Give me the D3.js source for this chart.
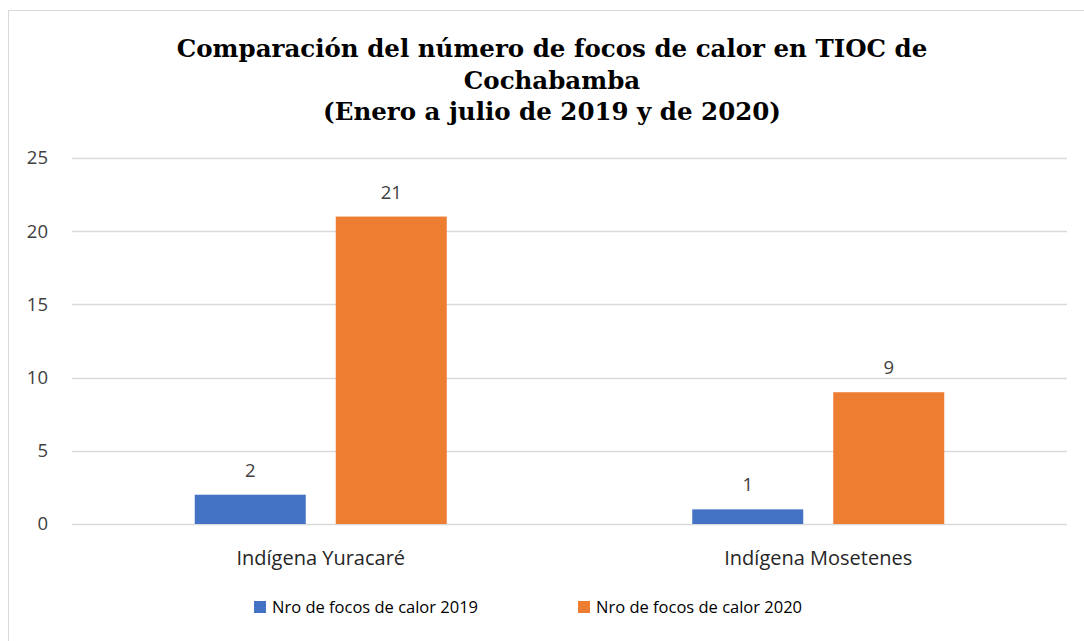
<!DOCTYPE html>
<html>
<head>
<meta charset="utf-8">
<script src="https://cdn.jsdelivr.net/npm/d3@7"></script>
<style>
  body { margin: 0; background: #fff; }
  svg { display: block; }
</style>
</head>
<body>
<div id="chart"></div>
<script>
// Data
var categories = ["Indígena Yuracaré", "Indígena Mosetenes"];
var seriesNames = ["Nro de focos de calor 2019", "Nro de focos de calor 2020"];
var values2019 = [2, 1];
var values2020 = [21, 9];
var yTicks = [0, 5, 10, 15, 20, 25];
var titleLines = ["Comparación del número de focos de calor en TIOC de", "Cochabamba", "(Enero a julio de 2019 y de 2020)"];

var colors = ["#4472C4", "#ED7D31"];

var W = 1084, H = 641;
var margin = {top: 158, bottom: 117, left: 72, right: 17};
var width = W - margin.left - margin.right;
var height = H - margin.top - margin.bottom;

var svg = d3.select("#chart").append("svg")
    .attr("width", W)
    .attr("height", H);

// Chart area border
svg.append("rect")
    .attr("x", 8.5).attr("y", 10.5)
    .attr("width", W + 20).attr("height", H + 20)
    .attr("fill", "none")
    .attr("stroke", "#d9d9d9");

// Title
svg.append("g").selectAll("text")
    .data(titleLines)
    .enter().append("text")
    .attr("x", 552)
    .attr("y", function(d, i) { return 57 + i * 31.5; })
    .attr("text-anchor", "middle")
    .style("font-family", "'DejaVu Serif', serif")
    .style("font-weight", "bold")
    .style("font-size", "24.5px")
    .attr("fill", "#000")
    .text(function(d) { return d; });

var g = svg.append("g")
    .attr("transform", "translate(" + margin.left + "," + margin.top + ")");

// Scales
var x0 = d3.scaleBand().domain(categories).range([0, width]);
var y = d3.scaleLinear().domain([0, 25]).range([height, 0]);

// Grid
g.append("g").selectAll("line")
    .data(yTicks)
    .enter().append("line")
    .attr("x1", 0).attr("x2", width)
    .attr("y1", function(d) { return Math.round(y(d)) + 0.5; })
    .attr("y2", function(d) { return Math.round(y(d)) + 0.5; })
    .attr("stroke", "#d9d9d9")
    .attr("stroke-width", 1.3);

// Y axis labels
g.append("g").selectAll("text")
    .data(yTicks)
    .enter().append("text")
    .attr("x", -24)
    .attr("y", function(d) { return y(d); })
    .attr("dy", "0.35em")
    .attr("text-anchor", "end")
    .style("font-family", "'Open Sans', sans-serif")
    .style("font-size", "18.5px")
    .attr("fill", "#404040")
    .text(function(d) { return d; });

// Bars
var barW = 111, gap = 30;
var series = [values2019, values2020];
series.forEach(function(vals, s) {
    var off = s === 0 ? -(gap / 2 + barW) : gap / 2;
    var bg = g.append("g");
    bg.selectAll("rect")
        .data(vals)
        .enter().append("rect")
        .attr("x", function(d, i) { return x0(categories[i]) + x0.bandwidth() / 2 + off; })
        .attr("y", function(d) { return y(d); })
        .attr("width", barW)
        .attr("height", function(d) { return y(0) - y(d); })
        .attr("fill", colors[s]);
    bg.selectAll("text")
        .data(vals)
        .enter().append("text")
        .attr("x", function(d, i) { return x0(categories[i]) + x0.bandwidth() / 2 + off + barW / 2; })
        .attr("y", function(d) { return y(d) - 18; })
        .attr("text-anchor", "middle")
        .style("font-family", "'Open Sans', sans-serif")
        .style("font-size", "18.5px")
        .attr("fill", "#404040")
        .text(function(d) { return d; });
});

// Category labels
g.append("g").selectAll("text")
    .data(categories)
    .enter().append("text")
    .attr("x", function(d) { return x0(d) + x0.bandwidth() / 2; })
    .attr("y", height + 41)
    .attr("text-anchor", "middle")
    .style("font-family", "'Open Sans', sans-serif")
    .style("font-size", "20px")
    .attr("fill", "#262626")
    .text(function(d) { return d; });

// Legend
var legendX = [254, 578];
var legend = svg.append("g").selectAll("g")
    .data(seriesNames)
    .enter().append("g")
    .attr("transform", function(d, i) { return "translate(" + legendX[i] + ",601)"; });
legend.append("rect")
    .attr("width", 12).attr("height", 12)
    .attr("fill", function(d, i) { return colors[i]; });
legend.append("text")
    .attr("x", 18).attr("y", 6)
    .attr("dy", "0.35em")
    .style("font-family", "'Open Sans', sans-serif")
    .style("font-size", "16.5px")
    .attr("fill", "#000")
    .text(function(d) { return d; });
</script>
</body>
</html>
